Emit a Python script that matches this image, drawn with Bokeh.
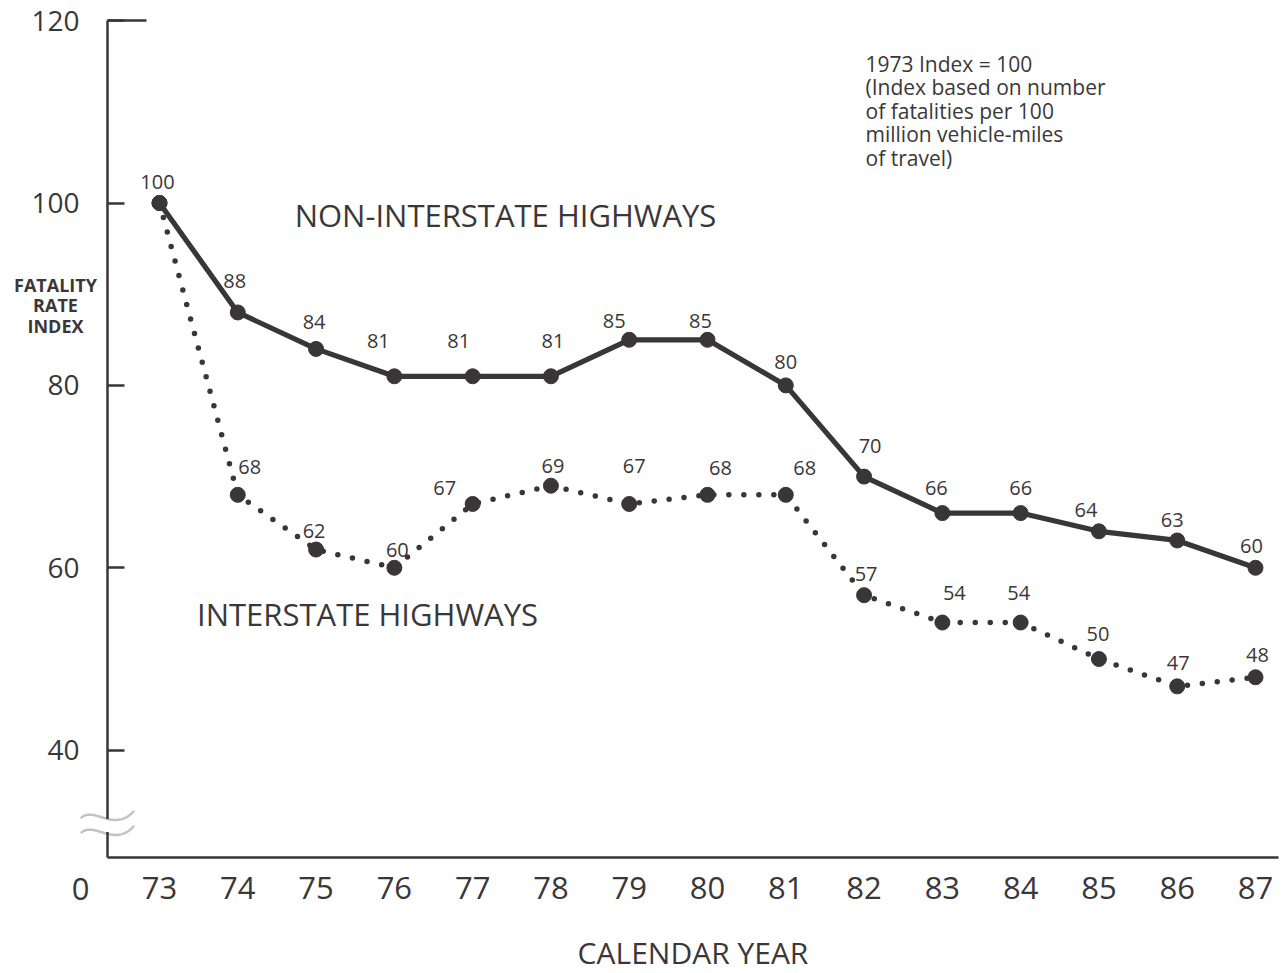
from bokeh.plotting import figure
from bokeh.models import (ColumnDataSource, FixedTicker, Label, BoxAnnotation,
                          PolyAnnotation, Range1d)
from bokeh.core.properties import value
from bokeh.embed import file_html
from bokeh.resources import INLINE

# ---------------- data ----------------
years = [73, 74, 75, 76, 77, 78, 79, 80, 81, 82, 83, 84, 85, 86, 87]
non_interstate = [100, 88, 84, 81, 81, 81, 85, 85, 80, 70, 66, 66, 64, 63, 60]
interstate = [100, 68, 62, 60, 67, 69, 67, 68, 68, 57, 54, 54, 50, 47, 48]
y_ticks = [40, 60, 80, 100, 120]
note_lines = ["1973 Index = 100", "(Index based on number", "of fatalities per 100",
              "million vehicle-miles", "of travel)"]
y_title_lines = ["FATALITY", "RATE", "INDEX"]

# ---------------- label offsets (screen px) ----------------
non_dx = [-2, -3, -2, -16, -14, 2, -15, -7, 0, 6, -6, 0, -13, -5, -4]
non_dy = [-21, -31, -27, -35, -35, -35, -19, -19, -23, -31, -25, -25, -21, -20, -22]
int_dx = [0, 12, -2, 3, -28, 2, 5, 13, 19, 2, 12, -2, -1, 1, 2]
int_dy = [0, -28, -19, -18, -16, -20, -38, -27, -27, -21, -30, -30, -25, -23, -22]

INK = "#3a3536"
TXT = "#3b3738"
FONT = "Open Sans"

# ---------------- geometry (frame = whole canvas) ----------------
W, H = 1280, 972
PXX = (1255 - 159) / (87 - 73)      # px per year
PXY = 9.12                          # px per index unit
X0 = 73 - 159 / PXX                 # data x at canvas left
YT = 100 + 202.5 / PXY              # data y at canvas top


def px2x(px):
    return X0 + px / PXX


def py2y(py):
    return YT - py / PXY


AXIS_X = px2x(107)
AXIS_Y = py2y(857)

p = figure(width=W, height=H,
           x_range=Range1d(X0, X0 + W / PXX), y_range=Range1d(YT - H / PXY, YT),
           output_backend="svg", toolbar_location=None, min_border=0)
p.outline_line_color = None
p.grid.visible = False
p.background_fill_color = "white"
p.border_fill_color = "white"

# x axis
xa = p.xaxis[0]
xa.fixed_location = AXIS_Y
xa.bounds = (AXIS_X, px2x(1278))
xa.ticker = FixedTicker(ticks=years)
xa.axis_line_color = INK
xa.axis_line_width = 2.5
xa.major_tick_line_color = None
xa.minor_tick_line_color = None
xa.major_label_text_font = FONT
xa.major_label_text_font_size = "31px"
xa.major_label_text_color = TXT
xa.major_label_standoff = 13
xa.axis_label = "CALENDAR YEAR"
xa.axis_label_text_font = FONT
xa.axis_label_text_font_size = "30px"
xa.axis_label_text_font_style = "normal"
xa.axis_label_text_color = TXT
xa.axis_label_standoff = 30

# y axis
ya = p.yaxis[0]
ya.fixed_location = AXIS_X
ya.bounds = (AXIS_Y, 120)
ya.ticker = FixedTicker(ticks=y_ticks)
ya.axis_line_color = INK
ya.axis_line_width = 2.5
ya.major_tick_in = 17
ya.major_tick_out = 0
ya.major_tick_line_color = INK
ya.major_tick_line_width = 2.5
ya.minor_tick_line_color = None
ya.major_label_text_font = FONT
ya.major_label_text_font_size = "28px"
ya.major_label_text_color = TXT
ya.major_label_standoff = 28

# longer top tick at 120
p.segment(x0=[AXIS_X], y0=[120], x1=[px2x(146)], y1=[120],
          line_color=INK, line_width=2.5)

# ---------------- series ----------------
src_n = ColumnDataSource(dict(x=years, y=non_interstate,
                              label=[str(v) for v in non_interstate],
                              dx=non_dx, dy=non_dy))
src_i = ColumnDataSource(dict(x=years, y=interstate))
src_il = ColumnDataSource(dict(x=years[1:], y=interstate[1:],
                               label=[str(v) for v in interstate[1:]],
                               dx=int_dx[1:], dy=int_dy[1:]))

p.line('x', 'y', source=src_i, line_color=INK, line_width=5.5,
       line_dash="0 15", line_cap="round")
p.line('x', 'y', source=src_n, line_color=INK, line_width=5.2, line_join="round")
p.scatter('x', 'y', source=src_n, size=15, fill_color=INK, line_color=INK)
p.scatter('x', 'y', source=src_i, size=15, fill_color=INK, line_color=INK)

for src in (src_n, src_il):
    p.text('x', 'y', text='label', x_offset='dx', y_offset='dy', source=src,
           text_font=value(FONT), text_font_size="20px", text_align="center",
           text_baseline="middle", text_color=TXT)

# series names
p.text(x=[px2x(505)], y=[py2y(214)], text=["NON-INTERSTATE HIGHWAYS"],
       text_font=value(FONT), text_font_size="31px", text_align="center",
       text_baseline="middle", text_color=TXT)
p.text(x=[px2x(367)], y=[py2y(613)], text=["INTERSTATE HIGHWAYS"],
       text_font=value(FONT), text_font_size="31px", text_align="center",
       text_baseline="middle", text_color=TXT)

# note
p.text(x=[px2x(865)] * len(note_lines),
       y=[py2y(63 + 23.5 * i) for i in range(len(note_lines))],
       text=note_lines, text_font=value(FONT), text_font_size="21px",
       text_align="left", text_baseline="middle", text_color=TXT)

# y title
for i, t in enumerate(y_title_lines):
    p.add_layout(Label(x=px2x(55), y=py2y(284 + 20.5 * i), text=t,
                       text_font=FONT, text_font_size="18px",
                       text_font_style="bold", text_align="center",
                       text_baseline="middle", text_color=TXT))

# zero label at the origin
p.add_layout(Label(x=px2x(80), y=py2y(888), text="0", text_font=FONT,
                   text_font_size="31px", text_align="center",
                   text_baseline="middle", text_color=TXT))

# ---------------- axis break ----------------
p.add_layout(BoxAnnotation(left=px2x(102), right=px2x(112),
                           top=py2y(818.5), bottom=py2y(831.5),
                           fill_color="white", fill_alpha=1.0,
                           line_color=None, level="overlay"))


def bez(p0, p1, p2, p3, n=30):
    pts = []
    for k in range(n + 1):
        t = k / n
        a, b, c, d = (1 - t) ** 3, 3 * (1 - t) ** 2 * t, 3 * (1 - t) * t ** 2, t ** 3
        pts.append((a * p0[0] + b * p1[0] + c * p2[0] + d * p3[0],
                    a * p0[1] + b * p1[1] + c * p2[1] + d * p3[1]))
    return pts


for shift in (0, 15):
    pts = bez((81, 817 + shift), (94, 806 + shift), (114, 832 + shift), (133, 811 + shift))
    path = pts + pts[::-1]
    p.add_layout(PolyAnnotation(xs=[px2x(a) for a, _ in path],
                                ys=[py2y(b) for _, b in path],
                                fill_alpha=0, fill_color=None,
                                line_color=INK, line_width=2.5,
                                line_join="round", level="overlay"))

open("out.html", "w").write(file_html(p, INLINE))
